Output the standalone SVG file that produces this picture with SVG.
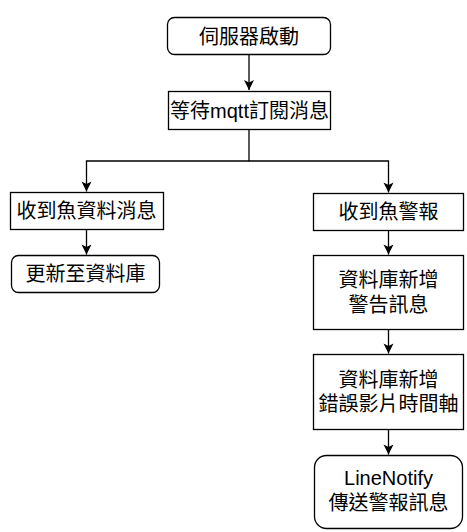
<svg xmlns="http://www.w3.org/2000/svg" width="467" height="532" viewBox="0 0 467 532">
<style>
.b{fill:#fff;stroke:#000;stroke-width:1.3}
.t{font-family:"Liberation Sans","Noto Sans CJK TC",sans-serif;font-size:20px;fill:#000;text-anchor:middle;dominant-baseline:central}
.c{fill:none;stroke:#000;stroke-width:1.3}
</style>
<defs>
<marker id="a" markerUnits="userSpaceOnUse" markerWidth="12" markerHeight="12" viewBox="0 0 12 12" refX="11" refY="6" orient="auto">
<path d="M1,1 L11,6 L1,11 L3.5,6 Z" fill="#000"/>
</marker>
</defs>
<rect width="467" height="532" fill="#fff"/>
<g id="connectors">
<path class="c" d="M249,54.5 V90" marker-end="url(#a)"/>
<path class="c" d="M249,129.5 V161 H86.5 V191.5" marker-end="url(#a)"/>
<path class="c" d="M249,161 H388.5 V192.5" marker-end="url(#a)"/>
<path class="c" d="M86.5,229.5 V254.5" marker-end="url(#a)"/>
<path class="c" d="M388.5,230.5 V254.5" marker-end="url(#a)"/>
<path class="c" d="M388.5,329.5 V353.5" marker-end="url(#a)"/>
<path class="c" d="M388.5,429.5 V454.5" marker-end="url(#a)"/>
</g>
<g id="n1"><rect class="b" x="167.5" y="17.5" width="163" height="37" rx="7"/><text class="t" x="249" y="37">伺服器啟動</text></g>
<g id="n2"><rect class="b" x="168.5" y="91.5" width="162" height="38"/><text class="t" x="249.5" y="110.5">等待mqtt訂閱消息</text></g>
<g id="n3"><rect class="b" x="10.5" y="192.5" width="153" height="37"/><text class="t" x="86.5" y="211">收到魚資料消息</text></g>
<g id="n4"><rect class="b" x="11.5" y="255.5" width="148" height="37" rx="7"/><text class="t" x="85.5" y="274">更新至資料庫</text></g>
<g id="n5"><rect class="b" x="313.5" y="193.5" width="150" height="37"/><text class="t" x="388.5" y="212">收到魚警報</text></g>
<g id="n6"><rect class="b" x="313.5" y="255.5" width="150" height="74"/><text class="t" x="388.5" y="280">資料庫新增</text><text class="t" x="388.5" y="305">警告訊息</text></g>
<g id="n7"><rect class="b" x="313.5" y="354.5" width="150" height="75"/><text class="t" x="388.5" y="380">資料庫新增</text><text class="t" x="388.5" y="404">錯誤影片時間軸</text></g>
<g id="n8"><rect class="b" x="314.5" y="455.5" width="148" height="73" rx="12"/><text class="t" x="388.5" y="478">LineNotify</text><text class="t" x="388.5" y="503">傳送警報訊息</text></g>
</svg>
